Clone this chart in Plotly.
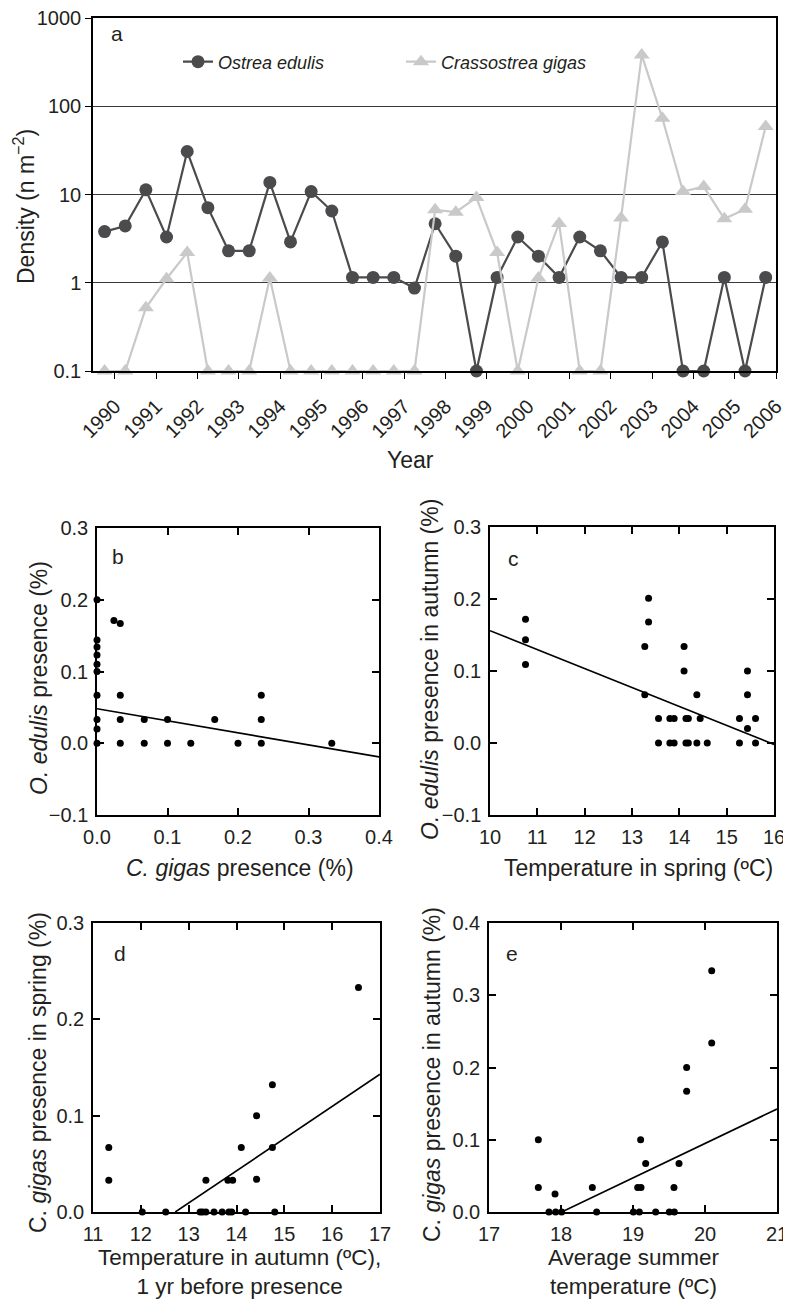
import plotly.graph_objects as go

W, H = 791, 1301
OFF = 8  # page body margin of the html page

def fx(p):
    return (p - OFF) / W

def fy(p):
    return 1 - (p - OFF) / H

# ---------------- Panel a data ----------------
a_years = [1990, 1990, 1991, 1991, 1992, 1992, 1993, 1993, 1994, 1994,
           1995, 1995, 1996, 1996, 1997, 1997, 1998, 1998, 1999, 1999,
           2000, 2000, 2001, 2001, 2002, 2002, 2003, 2003, 2004, 2004,
           2005, 2005, 2006]
a_seasons = ["spring", "autumn"] * 16 + ["spring"]
ostrea = [3.8, 4.4, 11.3, 3.3, 30.7, 7.1, 2.3, 2.3, 13.7, 2.9,
          10.8, 6.5, 1.15, 1.15, 1.15, 0.87, 4.66, 2.0, 0.1, 1.15,
          3.3, 2.0, 1.15, 3.3, 2.3, 1.15, 1.15, 2.9, 0.1, 0.1,
          1.15, 0.1, 1.15]
crassostrea = [0.1, 0.1, 0.52, 1.11, 2.2, 0.1, 0.1, 0.1, 1.13, 0.1,
               0.1, 0.1, 0.1, 0.1, 0.1, 0.1, 6.7, 6.3, 9.25, 2.2,
               0.1, 1.13, 4.7, 0.1, 0.1, 5.4, 382, 73, 10.8, 12.3,
               5.3, 6.8, 59]
a_tick_years = list(range(1990, 2007))
a_y_ticks = [0.1, 1, 10, 100, 1000]
a_y_ticktext = ["0.1", "1", "10", "100", "1000"]

# ---------------- Panel b data ----------------
b_x = [0, 0, 0, 0, 0, 0, 0, 0, 0, 0,
       0.024, 0.033, 0.033, 0.033, 0.033, 0.067, 0.067, 0.1, 0.1, 0.133,
       0.167, 0.2, 0.233, 0.233, 0.233, 0.333]
b_y = [0.2, 0.144, 0.134, 0.123, 0.110, 0.1, 0.067, 0.033, 0.020, 0,
       0.171, 0.167, 0.067, 0.033, 0, 0.033, 0, 0.033, 0, 0,
       0.033, 0, 0.067, 0.033, 0, 0]
b_fit_x = [0, 0.4]
b_fit_y = [0.048, -0.019]

# ---------------- Panel c data ----------------
c_x = [10.75, 10.75, 10.75, 13.27, 13.27, 13.35, 13.35, 13.56, 13.56,
       13.80, 13.89, 13.80, 13.89, 14.10, 14.10, 14.14, 14.19, 14.14, 14.19,
       14.37, 14.37, 14.44, 14.59, 15.27, 15.27, 15.44, 15.44, 15.44,
       15.61, 15.61]
c_y = [0.172, 0.1435, 0.109, 0.134, 0.067, 0.201, 0.168, 0.034, 0,
       0.034, 0.034, 0, 0, 0.134, 0.1, 0.034, 0.034, 0, 0,
       0.067, 0, 0.034, 0, 0.034, 0, 0.1, 0.067, 0.02,
       0.034, 0]
c_fit_x = [10, 16]
c_fit_y = [0.156, -0.002]

# ---------------- Panel d data ----------------
d_x = [11.33, 11.33, 12.03, 12.52, 13.24, 13.29, 13.36, 13.36, 13.53, 13.70,
       13.82, 13.92, 13.84, 13.90, 14.10, 14.19, 14.42, 14.42, 14.75, 14.75,
       14.80, 16.55]
d_y = [0.067, 0.033, 0, 0, 0, 0, 0, 0.033, 0, 0,
       0.033, 0.033, 0, 0, 0.067, 0, 0.1, 0.034, 0.132, 0.067,
       0, 0.233]
d_fit_x = [12.72, 17]
d_fit_y = [0, 0.143]

# ---------------- Panel e data ----------------
e_x = [17.685, 17.685, 17.917, 17.833, 17.926, 18.009, 18.435, 18.495,
       19.005, 19.088, 19.065, 19.111, 19.106, 19.176, 19.315, 19.505,
       19.574, 19.569, 19.639, 19.745, 19.745, 20.093, 20.093]
e_y = [0.1, 0.034, 0.025, 0, 0, 0, 0.034, 0,
       0, 0, 0.034, 0.034, 0.1, 0.067, 0, 0,
       0, 0.034, 0.067, 0.2, 0.167, 0.334, 0.234]
e_fit_x = [18.01, 21]
e_fit_y = [0, 0.1425]

# ---------------- Styling ----------------
FONT = "Liberation Sans, Arial, sans-serif"
TXT = "#231f20"
DARK = "#4b4b4d"
LIGHT = "#c9c9c9"
TICKF = dict(family=FONT, size=20, color=TXT)

season_offset = {"spring": -0.25, "autumn": 0.25}
a_x = [yr + season_offset[s] for yr, s in zip(a_years, a_seasons)]

fig = go.Figure()

fig.add_trace(go.Scatter(
    x=a_x, y=ostrea, mode="lines+markers", name="<i>Ostrea edulis</i>",
    line=dict(color=DARK, width=2.2),
    marker=dict(symbol="circle", size=13, color=DARK),
    xaxis="x", yaxis="y", cliponaxis=False))
fig.add_trace(go.Scatter(
    x=a_x, y=crassostrea, mode="lines+markers", name="<i>Crassostrea gigas</i>",
    line=dict(color=LIGHT, width=2.2),
    marker=dict(symbol="triangle-up", size=14, color=LIGHT),
    xaxis="x", yaxis="y", cliponaxis=False))

dot = dict(symbol="circle", size=7, color="black")
fitline = dict(color="black", width=1.6)
for xs, ys, fxs, fys, ax, ay in [
    (b_x, b_y, b_fit_x, b_fit_y, "x2", "y2"),
    (c_x, c_y, c_fit_x, c_fit_y, "x3", "y3"),
    (d_x, d_y, d_fit_x, d_fit_y, "x4", "y4"),
    (e_x, e_y, e_fit_x, e_fit_y, "x5", "y5"),
]:
    fig.add_trace(go.Scatter(x=fxs, y=fys, mode="lines", line=fitline,
                             xaxis=ax, yaxis=ay, showlegend=False, hoverinfo="skip"))
    fig.add_trace(go.Scatter(x=xs, y=ys, mode="markers", marker=dot,
                             xaxis=ax, yaxis=ay, showlegend=False, cliponaxis=False))

sc_axis = dict(showline=True, linecolor="black", linewidth=1.5, mirror="allticks",
               ticks="inside", ticklen=7, tickwidth=1.5, tickcolor="black",
               showgrid=False, zeroline=False, tickfont=TICKF, automargin=False,
               ticklabelstandoff=3, ticklabeloverflow="allow")

layout = dict(
    template="none",
    width=W, height=H, margin=dict(l=0, r=0, t=0, b=0, pad=0, autoexpand=False),
    paper_bgcolor="white", plot_bgcolor="white",
    font=dict(family=FONT, color=TXT),
    showlegend=True,
    legend=dict(orientation="h", x=fx(178), y=fy(62), xanchor="left", yanchor="middle",
                font=dict(family=FONT, size=18, color=TXT), bgcolor="rgba(0,0,0,0)",
                entrywidth=178, entrywidthmode="pixels", itemclick=False),
    # panel a
    xaxis=dict(domain=[fx(93), fx(776)], anchor="y", range=[1989.47, 2006],
               tickvals=a_tick_years, ticktext=[str(v) for v in a_tick_years],
               tickangle=-45, ticks="outside", ticklen=6, tickwidth=1.3, tickcolor="black",
               showline=True, linecolor="black", linewidth=1.5, mirror=True,
               showgrid=False, zeroline=False, tickfont=TICKF, automargin=False,
               ticklabelstandoff=8, ticklabeloverflow="allow"),
    yaxis=dict(domain=[fy(371), fy(18)], anchor="x", type="log", range=[-1, 3],
               tickvals=a_y_ticks, ticktext=a_y_ticktext,
               ticks="outside", ticklen=6, tickwidth=1.3, tickcolor="black",
               showline=True, linecolor="black", linewidth=1.5, mirror=True,
               showgrid=True, gridcolor="#3a3a3a", gridwidth=1.1, zeroline=False,
               tickfont=TICKF, automargin=False, ticklabeloverflow="allow"),
    # panel b
    xaxis2=dict(sc_axis, domain=[fx(97), fx(379)], anchor="y2", range=[0, 0.4],
                tickvals=[0, 0.1, 0.2, 0.3, 0.4], tickformat=".1f"),
    yaxis2=dict(sc_axis, domain=[fy(815), fy(528)], anchor="x2", range=[-0.1, 0.3],
                tickvals=[-0.1, 0, 0.1, 0.2, 0.3], tickformat=".1f"),
    # panel c
    xaxis3=dict(sc_axis, domain=[fx(490), fx(774)], anchor="y3", range=[10, 16],
                tickvals=list(range(10, 17))),
    yaxis3=dict(sc_axis, domain=[fy(815), fy(527)], anchor="x3", range=[-0.1, 0.3],
                tickvals=[-0.1, 0, 0.1, 0.2, 0.3], tickformat=".1f"),
    # panel d
    xaxis4=dict(sc_axis, domain=[fx(93), fx(380)], anchor="y4", range=[11, 17],
                tickvals=list(range(11, 18))),
    yaxis4=dict(sc_axis, domain=[fy(1212), fy(923)], anchor="x4", range=[0, 0.3],
                tickvals=[0, 0.1, 0.2, 0.3], tickformat=".1f"),
    # panel e
    xaxis5=dict(sc_axis, domain=[fx(489), fx(777)], anchor="y5", range=[17, 21],
                tickvals=list(range(17, 22))),
    yaxis5=dict(sc_axis, domain=[fy(1212), fy(923)], anchor="x5", range=[0, 0.4],
                tickvals=[0, 0.1, 0.2, 0.3, 0.4], tickformat=".1f"),
)
fig.update_layout(**layout)

def ann(text, x, y, size=23, angle=0):
    fig.add_annotation(text=text, x=fx(x), y=fy(y), xref="paper", yref="paper",
                       showarrow=False, textangle=angle, align="center",
                       xanchor="center", yanchor="middle",
                       font=dict(family=FONT, size=size, color=TXT))

# axis titles
ann("Density (n m<sup>\u22122</sup>)", 24, 207, angle=-90)
ann("Year", 410, 460)
ann("<i>O. edulis</i> presence (%)", 39, 678, angle=-90)
ann("<i>C. gigas</i> presence (%)", 240, 868)
ann("<i>O. edulis</i> presence in autumn (%)", 430, 670, angle=-90)
ann("Temperature in spring (\u00baC)", 638, 868)
ann("C. <i>gigas</i> presence in spring (%)", 38, 1073, angle=-90)
ann("Temperature in autumn (\u00baC),<br>1 yr before presence", 239, 1272, size=22.5)
ann("C. <i>gigas</i> presence in autumn (%)", 432, 1075, angle=-90)
ann("Average summer<br>temperature (\u00baC)", 633, 1272, size=22.5)

# panel letters
ann("a", 117, 33, size=21)
ann("b", 118, 556, size=21)
ann("c", 513, 558, size=21)
ann("d", 120, 953, size=21)
ann("e", 512, 953, size=21)

fig.write_html("out.html")
